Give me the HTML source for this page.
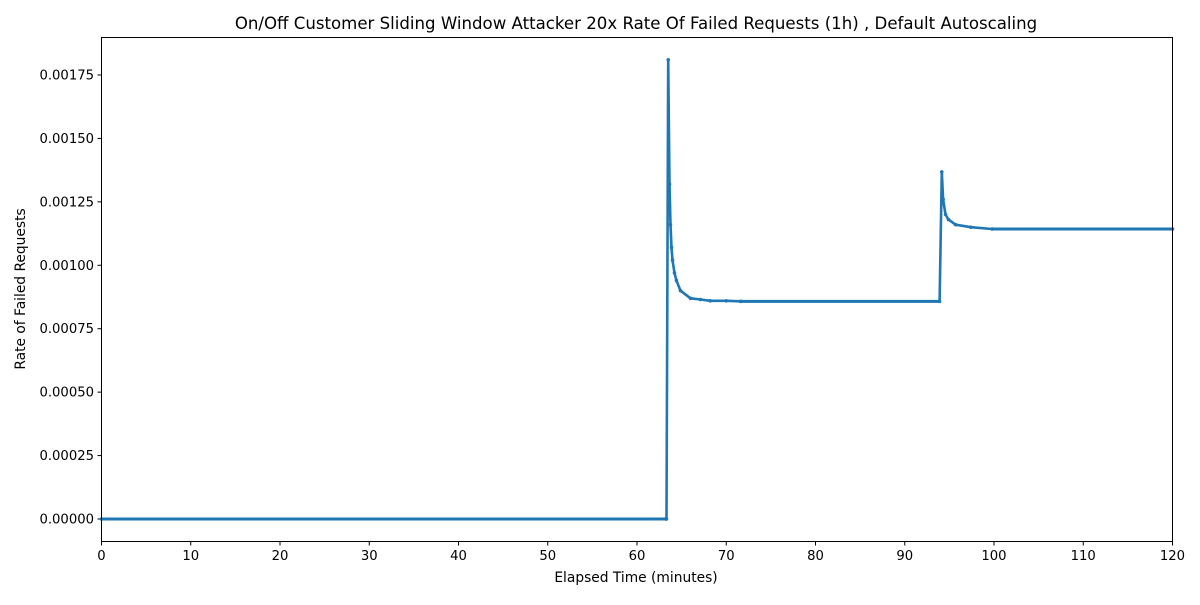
<!DOCTYPE html>
<html><head><meta charset="utf-8"><style>
html,body{margin:0;padding:0;background:#fff;}
svg text{font-family:"DejaVu Sans","Liberation Sans",sans-serif;fill:#000;}
</style></head><body>
<svg id="chart" width="1200" height="600" xmlns="http://www.w3.org/2000/svg">
<rect width="1200" height="600" fill="#fff"/>
<text x="636" y="29" font-size="16.6" text-anchor="middle">On/Off Customer Sliding Window Attacker 20x Rate Of Failed Requests (1h) , Default Autoscaling</text>
<g id="xt"></g>
<g id="yt"></g>
<g id="series"></g>
<rect x="101.5" y="37.5" width="1071" height="504" fill="none" stroke="#000" stroke-width="1"/>
<text x="636" y="582" font-size="13.8" text-anchor="middle">Elapsed Time (minutes)</text>
<text transform="translate(25,289) rotate(-90)" font-size="13.8" text-anchor="middle">Rate of Failed Requests</text>
</svg>
<script>
const xTicks=[0,10,20,30,40,50,60,70,80,90,100,110,120];
const yTicks=[0,0.00025,0.0005,0.00075,0.001,0.00125,0.0015,0.00175];
const yLabels=["0.00000","0.00025","0.00050","0.00075","0.00100","0.00125","0.00150","0.00175"];
const times=[0,63.2,63.3,63.5,63.64,63.75,63.87,63.98,64.2,64.42,64.87,65.99,67.11,68.2,70,71.6,93.9,94.15,94.3,94.57,94.9,95.7,97.4,99.8,120];
const values=[0,0,0,0.00181,0.00132,0.00116,0.00107,0.00102,0.00097,0.00094,0.0009,0.00087,0.000865,0.00086,0.00086,0.000858,0.000858,0.001368,0.00126,0.0012,0.00118,0.00116,0.00115,0.001143,0.001143];
const NS="http://www.w3.org/2000/svg";
const X=t=>101.5+t*(1071/120);
const Y=v=>519-v*253714;
const xt=document.getElementById('xt'),yt=document.getElementById('yt'),s=document.getElementById('series');
function mk(tag,attrs,parent){const e=document.createElementNS(NS,tag);for(const k in attrs)e.setAttribute(k,attrs[k]);parent.appendChild(e);return e;}
xTicks.forEach(t=>{
 const l=mk('line',{x1:X(t),x2:X(t),y1:541.5,y2:545.5,stroke:'#000'},xt);
 
 
 const tx=mk('text',{x:X(t),y:560,'font-size':13.2,'text-anchor':'middle'},xt);tx.textContent=t;
 
 
});
yTicks.forEach((v,i)=>{
 const l=mk('line',{x1:97.5,x2:101.5,y1:Y(v),y2:Y(v),stroke:'#000'},yt);
 
 
 const tx=mk('text',{x:94,y:Y(v)+4.5,'font-size':13.2,'text-anchor':'end'},yt);tx.textContent=yLabels[i];
 
 
});
const pts=times.map((t,i)=>X(t).toFixed(1)+','+Y(values[i]).toFixed(1)).join(' ');
const pl=mk('polyline',{points:pts,fill:'none',stroke:'#1f77b4','stroke-width':2.6,'stroke-linejoin':'round'},s);


[[0,63.3,0],[71.6,93.9,0.000858],[99.8,120,0.001143]].forEach(f=>{
 const b=mk('line',{x1:X(f[0]),x2:X(f[1]),y1:Y(f[2]),y2:Y(f[2]),stroke:'#1f77b4','stroke-width':3},s);
 
 
});
times.forEach((t,i)=>{
 const c=mk('circle',{cx:X(t),cy:Y(values[i]),r:1.8,fill:'#1f77b4'},s);
 
 
});
</script>
</body></html>
